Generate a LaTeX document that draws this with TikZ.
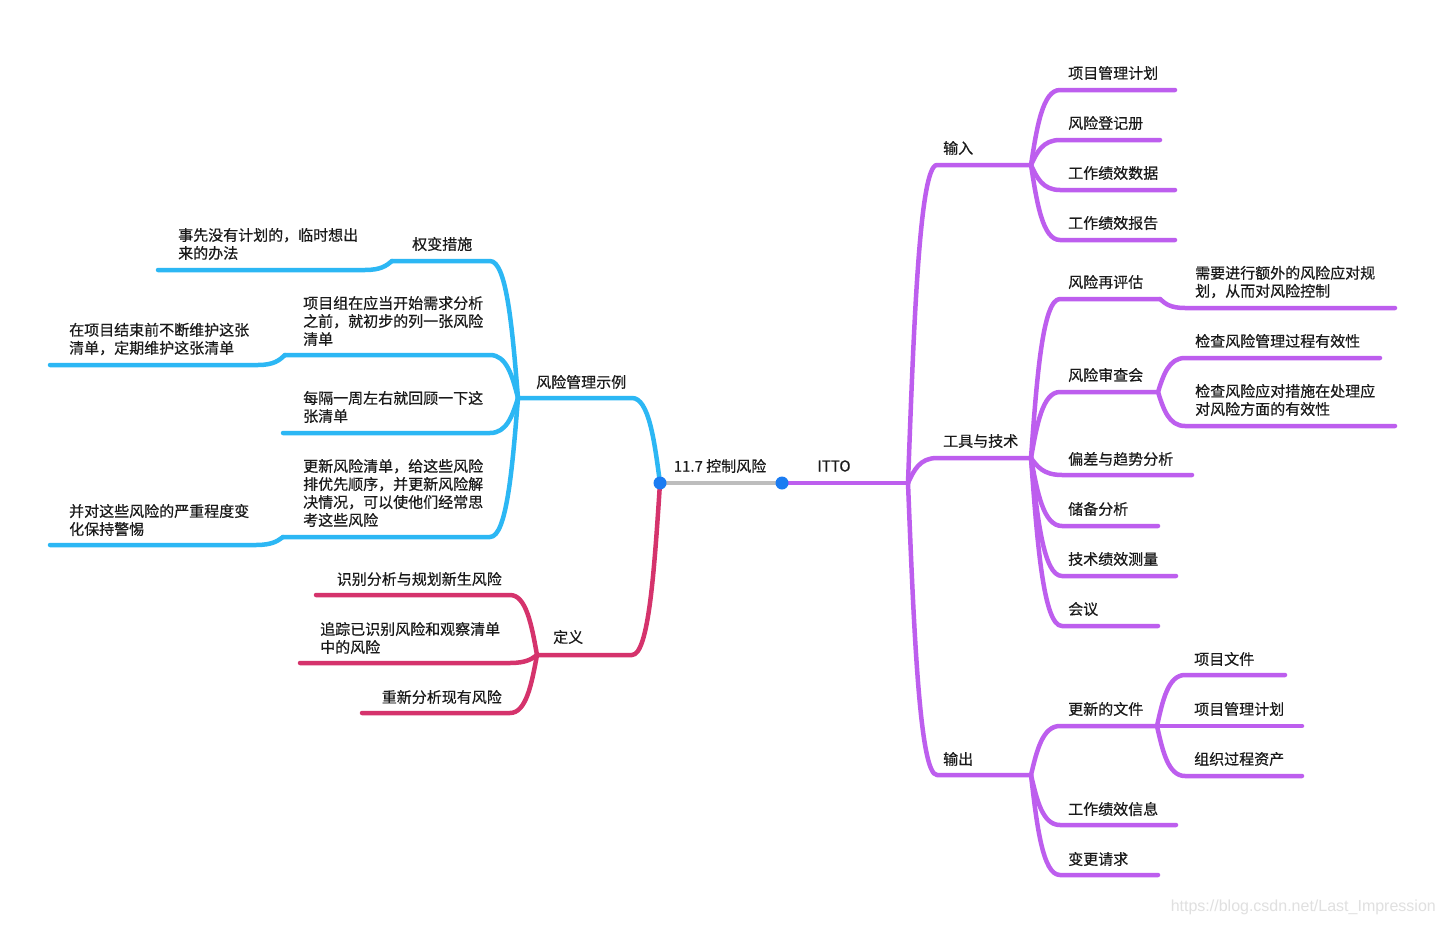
\documentclass[tikz,border=0pt]{standalone}
\usepackage{fontspec}
\setmainfont{Noto Sans CJK SC}[BoldFont={Noto Sans CJK SC}, BoldFeatures={FakeBold=0.5}]
\newfontfamily\wmfont{Liberation Sans}
\usetikzlibrary{calc}
\definecolor{mmpurple}{HTML}{BD5EEE}
\definecolor{mmblue}{HTML}{2CB7F4}
\definecolor{mmred}{HTML}{D5336C}
\definecolor{mmgray}{HTML}{BDBDBD}
\definecolor{mmdot}{HTML}{1B7CF2}
\definecolor{mmtext}{HTML}{1A1A1A}
\newcommand{\mmlink}[4]{%
  \draw[link,#1] let \p1=(#2), \p2=(#3) in
    (\p1) .. controls ({\x1+0.2*(\x2-\x1)},{\y1+0.5*(\y2-\y1)}) and ({\x1+0.4*(\x2-\x1)},\y2) .. (\p2) -- (#4);
}
\begin{document}
\begin{tikzpicture}[x=1pt,y=-1pt,
  link/.style={line width=4.5pt, line cap=round, line join=round},
  lbl/.style={inner sep=0pt, anchor=west, align=left, text=mmtext, font=\fontsize{15}{18}\selectfont\bfseries},
  lble/.style={lbl, anchor=east, align=right},
  lblc/.style={lbl, anchor=center}]
\useasboundingbox (0,0) rectangle (1444,926);
\fill[white] (0,0) rectangle (1444,926);

% junctions
\coordinate (L) at (660,483);
\coordinate (R) at (782,483);
\coordinate (J1) at (908,483);
\coordinate (Jin) at (1031,165);
\coordinate (Jtool) at (1031,458);
\coordinate (Jout) at (1031,775);
\coordinate (Jrr) at (1160,299);
\coordinate (Jrs) at (1158,392);
\coordinate (Jupd) at (1157,726);
\coordinate (Jex) at (518,398);
\coordinate (Jqb) at (392,261);
\coordinate (Jxm) at (285,355);
\coordinate (Jgx) at (283,537);
\coordinate (Jdef) at (537,655);
% tips
\coordinate (tIn1) at (1175,90);
\coordinate (tIn2) at (1160,140);
\coordinate (tIn3) at (1175,190);
\coordinate (tIn4) at (1175,240);
\coordinate (tRr) at (1395,308);
\coordinate (tRs1) at (1380,358);
\coordinate (tRs2) at (1395,426);
\coordinate (tT3) at (1192,475);
\coordinate (tT4) at (1158,526);
\coordinate (tT5) at (1176,576);
\coordinate (tT6) at (1158,626);
\coordinate (tU1) at (1285,675);
\coordinate (tU2) at (1302,726);
\coordinate (tU3) at (1302,776);
\coordinate (tO2) at (1176,825);
\coordinate (tO3) at (1158,875);
\coordinate (tQb) at (158,270);
\coordinate (tXm) at (50,365);
\coordinate (tHg) at (283,433);
\coordinate (tGx) at (50,545);
\coordinate (tD1) at (316,595);
\coordinate (tD2) at (300,663);
\coordinate (tD3) at (362,713);

% right side
\draw[link,mmpurple] (R) -- (J1);
\mmlink{mmpurple}{J1}{937,165}{Jin}
\mmlink{mmpurple}{J1}{937,458}{Jtool}
\mmlink{mmpurple}{J1}{937,775}{Jout}
\mmlink{mmpurple}{Jin}{1060,90}{tIn1}
\mmlink{mmpurple}{Jin}{1060,140}{tIn2}
\mmlink{mmpurple}{Jin}{1060,190}{tIn3}
\mmlink{mmpurple}{Jin}{1060,240}{tIn4}
\mmlink{mmpurple}{Jtool}{1060,299}{Jrr}
\mmlink{mmpurple}{Jtool}{1060,392}{Jrs}
\mmlink{mmpurple}{Jtool}{1062,475}{tT3}
\mmlink{mmpurple}{Jtool}{1062,526}{tT4}
\mmlink{mmpurple}{Jtool}{1062,576}{tT5}
\mmlink{mmpurple}{Jtool}{1062,626}{tT6}
\mmlink{mmpurple}{Jrr}{1185,308}{tRr}
\mmlink{mmpurple}{Jrs}{1185,358}{tRs1}
\mmlink{mmpurple}{Jrs}{1185,426}{tRs2}
\mmlink{mmpurple}{Jout}{1060,726}{Jupd}
\mmlink{mmpurple}{Jout}{1060,825}{tO2}
\mmlink{mmpurple}{Jout}{1060,875}{tO3}
\mmlink{mmpurple}{Jupd}{1185,675}{tU1}
\draw[link,mmpurple] (Jupd) -- (tU2);
\mmlink{mmpurple}{Jupd}{1185,776}{tU3}

% left side
\mmlink{mmblue}{L}{632,398}{Jex}
\mmlink{mmblue}{Jex}{490,261}{Jqb}
\mmlink{mmblue}{Jqb}{365,270}{tQb}
\mmlink{mmblue}{Jex}{490,355}{Jxm}
\mmlink{mmblue}{Jxm}{258,365}{tXm}
\mmlink{mmblue}{Jex}{490,433}{tHg}
\mmlink{mmblue}{Jex}{490,537}{Jgx}
\mmlink{mmblue}{Jgx}{256,545}{tGx}
\mmlink{mmred}{L}{632,655}{Jdef}
\mmlink{mmred}{Jdef}{510,595}{tD1}
\mmlink{mmred}{Jdef}{510,663}{tD2}
\mmlink{mmred}{Jdef}{510,713}{tD3}

% root
\draw[link,mmgray,line cap=butt] (L) -- (R);
\fill[mmdot] (L) circle (6.5);
\fill[mmdot] (R) circle (6.5);

% labels
\node[lblc] (root) at (720,466) {11.7 控制风险};
\node[lblc] (itto) at (834,466) {ITTO};
\node[lbl] (in) at (943,148) {输入};
\node[lbl] (tool) at (943,441) {工具与技术};
\node[lbl] (out) at (943,759) {输出};
\node[lbl] (in1) at (1068,73) {项目管理计划};
\node[lbl] (in2) at (1068,123) {风险登记册};
\node[lbl] (in3) at (1068,173) {工作绩效数据};
\node[lbl] (in4) at (1068,223) {工作绩效报告};
\node[lbl] (t1) at (1068,282) {风险再评估};
\node[lbl] (t2) at (1068,375) {风险审查会};
\node[lbl] (t3) at (1068,459) {偏差与趋势分析};
\node[lbl] (t4) at (1068,509) {储备分析};
\node[lbl] (t5) at (1068,559) {技术绩效测量};
\node[lbl] (t6) at (1068,609) {会议};
\node[lbl] (rr) at (1195,282) {需要进行额外的风险应对规\\划，从而对风险控制};
\node[lbl] (rs1) at (1195,341) {检查风险管理过程有效性};
\node[lbl] (rs2) at (1195,400) {检查风险应对措施在处理应\\对风险方面的有效性};
\node[lbl] (o1) at (1068,709) {更新的文件};
\node[lbl] (o2) at (1068,809) {工作绩效信息};
\node[lbl] (o3) at (1068,859) {变更请求};
\node[lbl] (u1) at (1194,659) {项目文件};
\node[lbl] (u2) at (1194,709) {项目管理计划};
\node[lbl] (u3) at (1194,759) {组织过程资产};

\node[lbl] (ex) at (536,382) {风险管理示例};
\node[lbl] (def) at (553,637) {定义};
\node[lbl] (qb) at (412,244) {权变措施};
\node[lbl] (qbc) at (178,244) {事先没有计划的，临时想出\\来的办法};
\node[lbl] (xm) at (303,321) {项目组在应当开始需求分析\\之前，就初步的列一张风险\\清单};
\node[lbl] (xmc) at (69,339) {在项目结束前不断维护这张\\清单，定期维护这张清单};
\node[lbl] (hg) at (303,407) {每隔一周左右就回顾一下这\\张清单};
\node[lbl] (gx) at (303,493) {更新风险清单，给这些风险\\排优先顺序，并更新风险解\\决情况，可以使他们经常思\\考这些风险};
\node[lbl] (gxc) at (69,520) {并对这些风险的严重程度变\\化保持警惕};
\node[lble] (d1) at (502,579) {识别分析与规划新生风险};
\node[lbl] (d2) at (320,638) {追踪已识别风险和观察清单\\中的风险};
\node[lble] (d3) at (502,697) {重新分析现有风险};

\node[inner sep=0pt, anchor=east, text=black!12, font=\wmfont\fontsize{16}{16}\selectfont] (wm) at (1436,907) {https://blog.csdn.net/Last\_Impression};
\end{tikzpicture}
\end{document}
